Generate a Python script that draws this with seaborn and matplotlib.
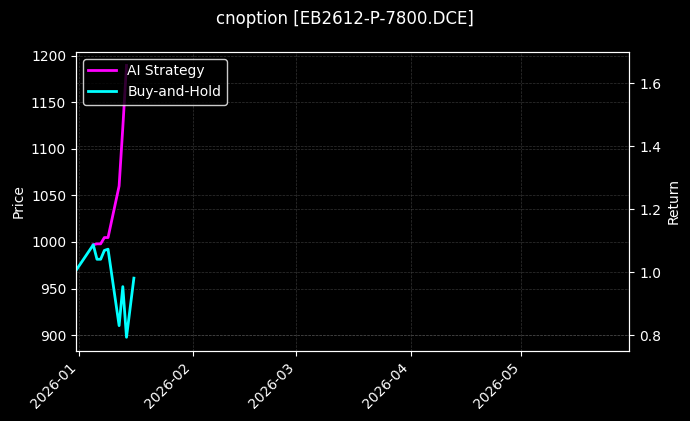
import pandas as pd
import numpy as np
import seaborn as sns
import matplotlib.pyplot as plt
import matplotlib.dates as mdates

# data
bh_dates = ['2025-12-31', '2026-01-05', '2026-01-06', '2026-01-07', '2026-01-08', '2026-01-09',
            '2026-01-12', '2026-01-13', '2026-01-14', '2026-01-16']
bh_values = [1.000, 1.087, 1.041, 1.041, 1.069, 1.073, 0.830, 0.954, 0.793, 0.981]

ai_dates = ['2026-01-05', '2026-01-06', '2026-01-07', '2026-01-08', '2026-01-09',
            '2026-01-12', '2026-01-13', '2026-01-14']
ai_values = [1.087, 1.090, 1.090, 1.110, 1.110, 1.274, 1.460, 1.657]

price_ticks = [900, 950, 1000, 1050, 1100, 1150, 1200]
return_ticks = [0.8, 1.0, 1.2, 1.4, 1.6]

bh = pd.DataFrame({'date': pd.to_datetime(bh_dates), 'ret': bh_values})
ai = pd.DataFrame({'date': pd.to_datetime(ai_dates), 'ret': ai_values})

plt.style.use('dark_background')
fig = plt.figure(figsize=(6.9, 4.21), dpi=100)
ax = fig.add_axes([0.110, 0.166, 0.802, 0.711])
ax2 = ax.twinx()

sns.lineplot(data=ai, x='date', y='ret', ax=ax2, color='#ff00ff', linewidth=2, label='AI Strategy')
sns.lineplot(data=bh, x='date', y='ret', ax=ax2, color='#00ffff', linewidth=2, label='Buy-and-Hold')

ax.set_xlim(pd.Timestamp('2025-12-31 07:00'), pd.Timestamp('2026-05-30 05:00'))
ax.set_ylim(882.8, 1204.3)
ax.set_yticks(price_ticks)
ax2.set_ylim(0.749, 1.7005)
ax2.set_yticks(return_ticks)

ax.set_ylabel('Price')
ax2.set_ylabel('Return')
ax.set_xlabel('')
ax2.set_xlabel('')

ax.xaxis.set_major_locator(mdates.MonthLocator())
ax.xaxis.set_major_formatter(mdates.DateFormatter('%Y-%m'))
plt.setp(ax.get_xticklabels(), rotation=45, ha='right')

ax.grid(True, linestyle='--', linewidth=0.5, color='gray', alpha=0.4)
ax2.grid(True, linestyle='--', linewidth=0.5, color='gray', alpha=0.4)

ax2.legend(loc='upper left', facecolor='black', edgecolor='white')

fig.suptitle('cnoption [EB2612-P-7800.DCE]', y=0.955, va='center', fontsize=12)

fig.savefig('out.png', dpi=100)
